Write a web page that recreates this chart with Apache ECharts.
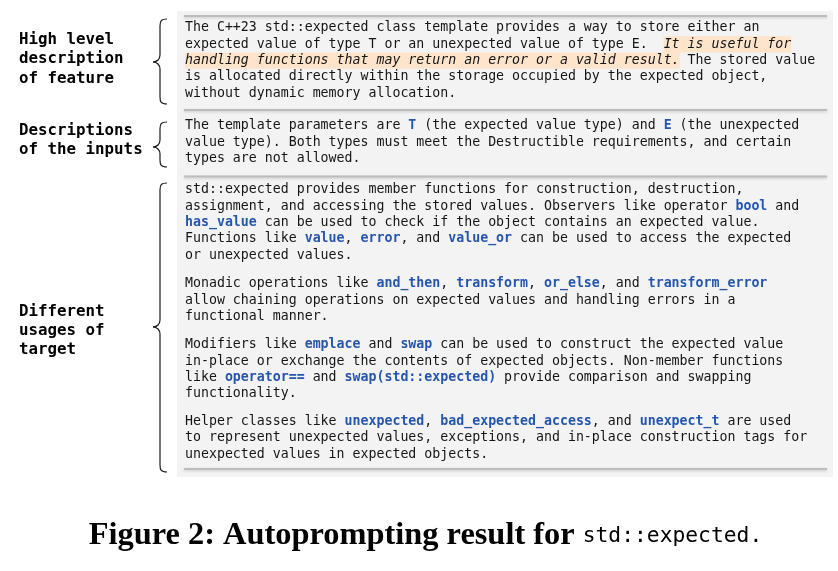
<!DOCTYPE html>
<html>
<head>
<meta charset="utf-8">
<script src="https://cdn.jsdelivr.net/npm/echarts@6/dist/echarts.min.js"></script>
<style>
  html, body { margin: 0; padding: 0; background: #ffffff; }
  #main { width: 838px; height: 571px; }
</style>
</head>
<body>
<div id="main"></div>
<script>
// left side labels
const featureLabel = ['High level', 'description', 'of feature'];
const inputsLabel = ['Descriptions', 'of the inputs'];
const usagesLabel = ['Different', 'usages of', 'target'];

// box texts ({c|..} = code in blue, {h|..} = highlighted italic)
const featureText = [
    'The C++23 std::expected class template provides a way to store either an',
    'expected value of type T or an unexpected value of type E.  {h|It is useful for}',
    '{h|handling functions that may return an error or a valid result.} The stored value',
    'is allocated directly within the storage occupied by the expected object,',
    'without dynamic memory allocation.'
];
const inputsText = [
    'The template parameters are {c|T} (the expected value type) and {c|E} (the unexpected',
    'value type). Both types must meet the Destructible requirements, and certain',
    'types are not allowed.'
];
const usagesText1 = [
    'std::expected provides member functions for construction, destruction,',
    'assignment, and accessing the stored values. Observers like operator {c|bool} and',
    '{c|has_value} can be used to check if the object contains an expected value.',
    'Functions like {c|value}, {c|error}, and {c|value_or} can be used to access the expected',
    'or unexpected values.'
];
const usagesText2 = [
    'Monadic operations like {c|and_then}, {c|transform}, {c|or_else}, and {c|transform_error}',
    'allow chaining operations on expected values and handling errors in a',
    'functional manner.'
];
const usagesText3 = [
    'Modifiers like {c|emplace} and {c|swap} can be used to construct the expected value',
    'in-place or exchange the contents of expected objects. Non-member functions',
    'like {c|operator==} and {c|swap(std::expected)} provide comparison and swapping',
    'functionality.'
];
const usagesText4 = [
    'Helper classes like {c|unexpected}, {c|bad_expected_access}, and {c|unexpect_t} are used',
    'to represent unexpected values, exceptions, and in-place construction tags for',
    'unexpected values in expected objects.'
];

const captionText = 'Figure 2: Autoprompting result for ';
const captionCode = 'std::expected.';

// layout
const MONO = '"DejaVu Sans Mono", "Liberation Mono", monospace';
const LH = 16.3;
const textX = 185;
const blue = '#2456b0';
const ink = '#151515';

function para(lines, top) {
    return {
        type: 'text',
        style: {
            x: textX, y: top,
            text: lines.join('\n'),
            fontFamily: MONO, fontSize: 13.25,
            fill: ink,
            lineHeight: LH,
            verticalAlign: 'top',
            rich: {
                c: { fontFamily: MONO, fontSize: 13.25, fontWeight: 'bold', fill: blue, lineHeight: LH },
                h: { fontFamily: MONO, fontSize: 13.25, fontStyle: 'italic', fill: ink,
                     backgroundColor: '#fde4cb', lineHeight: LH, height: LH }
            }
        }
    };
}

function label(lines, top) {
    return {
        type: 'text',
        style: {
            x: 19, y: top,
            text: lines.join('\n'),
            fontFamily: MONO, fontSize: 15.8, fontWeight: 'bold',
            fill: '#000000', lineHeight: 19.2,
            verticalAlign: 'top'
        }
    };
}

// curly brace built from curves and lines
function brace(top, tip, bottom) {
    const e = 167, s = 160, t = 153;
    const st = { fill: null, stroke: '#1a1a1a', lineWidth: 1.2 };
    function curve(x1, y1, cx1, cy1, cx2, cy2, x2, y2) {
        return { type: 'bezierCurve', shape: { x1: x1, y1: y1, cpx1: cx1, cpy1: cy1, cpx2: cx2, cpy2: cy2, x2: x2, y2: y2 }, style: st };
    }
    function seg(y1, y2) {
        return { type: 'line', shape: { x1: s, y1: y1, x2: s, y2: y2 }, style: st };
    }
    return {
        type: 'group',
        children: [
            curve(e, top, s + 1, top, s, top + 2, s, top + 7),
            seg(top + 7, tip - 7),
            curve(s, tip - 7, s, tip - 3, s - 3, tip, t, tip),
            curve(t, tip, s - 3, tip, s, tip + 3, s, tip + 7),
            seg(tip + 7, bottom - 7),
            curve(s, bottom - 7, s, bottom - 2, s + 1, bottom, e, bottom)
        ]
    };
}

function sep(y) {
    return {
        type: 'line',
        shape: { x1: 184, y1: y, x2: 827, y2: y },
        style: {
            stroke: '#bdbdbd', lineWidth: 2,
            shadowBlur: 3, shadowColor: 'rgba(0,0,0,0.18)', shadowOffsetY: 1
        }
    };
}

var myChart = echarts.init(document.getElementById('main'), null, { renderer: 'canvas' });
option = {
    backgroundColor: '#ffffff',
    animation: false,
    graphic: [
        {
            type: 'rect',
            shape: { x: 177, y: 11, width: 656, height: 466 },
            style: { fill: '#f3f3f3' }
        },
        sep(16), sep(110), sep(176.5), sep(469),
        para(featureText, 28 - LH / 2),
        para(inputsText, 126 - LH / 2),
        para(usagesText1, 190 - LH / 2),
        para(usagesText2, 284 - LH / 2),
        para(usagesText3, 345 - LH / 2),
        para(usagesText4, 421.7 - LH / 2),
        label(featureLabel, 40 - 9.6),
        label(inputsLabel, 130.7 - 9.6),
        label(usagesLabel, 311.7 - 9.6),
        brace(19, 62, 104),
        brace(122, 147, 167),
        brace(183, 327, 472),
        {
            type: 'text',
            style: {
                x: 425.5, y: 536,
                text: '{s|' + captionText + '}{m|' + captionCode + '}',
                align: 'center', verticalAlign: 'middle',
                rich: {
                    s: { fontFamily: '"Liberation Serif", "DejaVu Serif", serif', fontSize: 32.4,
                         fontWeight: 'bold', fill: '#000000' },
                    m: { fontFamily: MONO, fontSize: 21.3, fill: '#000000' }
                }
            }
        }
    ]
};
myChart.setOption(option);
</script>
</body>
</html>
